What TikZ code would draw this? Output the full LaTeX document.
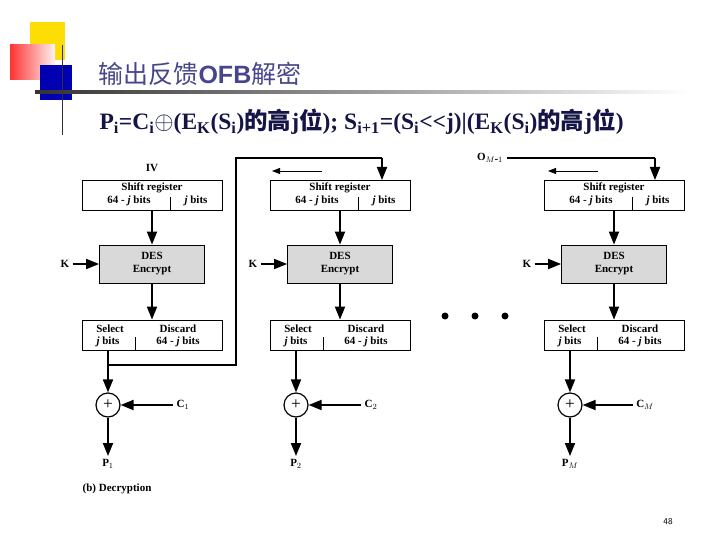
\documentclass[tikz,border=0pt]{standalone}
\usepackage{fontspec}
\setmainfont{Liberation Serif}
\newfontfamily\cjk{Noto Sans CJK SC}
\newfontfamily\titlefont{Liberation Sans}
\usetikzlibrary{arrows.meta,positioning,calc}
\definecolor{titleblue}{RGB}{70,70,140}
\definecolor{navy}{RGB}{20,20,70}
\begin{document}
\begin{tikzpicture}[x=1pt, y=-1pt, > = {Triangle[length=13pt,width=10pt]},
  reg/.style={rectangle, draw, thick, minimum width=140pt, minimum height=30pt, inner sep=0pt},
  des/.style={rectangle, draw, thick, fill=black!15, minimum width=105pt, minimum height=38pt, font=\fontsize{11}{13}\selectfont\bfseries, align=center},
  xor/.style={circle, draw, line width=1.2pt, minimum size=24pt, inner sep=0pt, font=\LARGE},
  flow/.style={->, line width=1.8pt},
  lab/.style={font=\fontsize{11}{12}\selectfont\bfseries}]
\useasboundingbox (0,0) rectangle (720,540);
%slide decoration
\fill [yellow!80!orange] (30,22) rectangle (65,60);
\shade [left color=red!80, right color=red!5] (10,45) rectangle (55,80);
\fill [blue!70!black] (40,65) rectangle (72,100);
\shade [left color=black!80, right color=white] (35,91) rectangle (690,94);
\draw [thick, black!80] (62,45) -- (62,135);
\node [anchor=west, text=titleblue, font=\fontsize{25}{27}\selectfont] (title) at (95,74) {{\cjk 输出反馈}{\titlefont\bfseries OFB}{\cjk 解密}};
\node [anchor=west, text=navy, font=\fontsize{23.5}{25}\selectfont\bfseries] (formula) at (96,122)
  {P\textsubscript{i}=C\textsubscript{i}$\oplus$(E\textsubscript{K}(S\textsubscript{i}){\cjk 的高}j{\cjk 位}); S\textsubscript{i+1}=(S\textsubscript{i}{<}{<}j)|(E\textsubscript{K}(S\textsubscript{i}){\cjk 的高}j{\cjk 位})};
%three stages
\foreach \n/\x/\xc/\cl/\pl in {1/152/108/C$_1$/P$_1$, 2/340/296/C$_2$/P$_2$, 3/614/570/C$_M$/P$_M$}
{
	\node [reg] (sr\n) at (\x,195) {};
	\draw [thick] (\x+18,197) -- (\x+18,210);
	\node [lab] at (\x,188) {Shift register};
	\node [lab] at (\x-23,201) {64 - \textit{j} bits};
	\node [lab] at (\x+44,201) {\textit{j} bits};
	\node [des] (des\n) at (\x,264) {DES\\Encrypt};
	\node [reg] (sel\n) at (\x,335) {};
	\draw [thick] (\x-17,337) -- (\x-17,350);
	\node [lab] at (\x-42,329) {Select};
	\node [lab] at (\x-44,342) {\textit{j} bits};
	\node [lab] at (\x+26,329) {Discard};
	\node [lab] at (\x+26,342) {64 - \textit{j} bits};
	\node [lab] (k\n) at (\x-87,264) {K};
	\node [xor] (x\n) at (\xc,405) {+};
	\node [lab] (c\n) at (\xc+75,405) {\cl};
	\node [lab] (p\n) at (\xc,464) {\pl};
	\draw [flow] (sr\n) -- (des\n);
	\draw [flow] (des\n) -- (sel\n);
	\draw [flow] (k\n) -- (des\n);
	\draw [flow] (\xc,350) -- (x\n);
	\draw [flow] (c\n) -- (x\n);
	\draw [flow] (x\n) -- (p\n);
}
\node [lab] (iv) at (152,168) {IV};
%feedback
\coordinate (fb) at (108,365);
\coordinate (in2) at (382,180);
\draw [line width=1.8pt] (fb) -| (236,158) -- (382,158);
\draw [flow] (382,158) -- (in2);
\draw [->, thick, > = {Triangle[length=8pt,width=6pt]}] (322,171) -- (272,171);
\node [lab] (om) at (490,158) {O$_{M\mbox{-}1}$};
\coordinate (in3) at (655,180);
\draw [line width=1.8pt] (om) -- (655,158);
\draw [flow] (655,158) -- (in3);
\draw [->, thick, > = {Triangle[length=8pt,width=6pt]}] (598,171) -- (548,171);
\foreach \d in {445,475,505} \fill (\d,316) circle (3.5pt);
\node [lab] (cap) at (117,489) {(b) Decryption};
\node [font=\small\sffamily] (page) at (668,522) {48};
\end{tikzpicture}
\end{document}
